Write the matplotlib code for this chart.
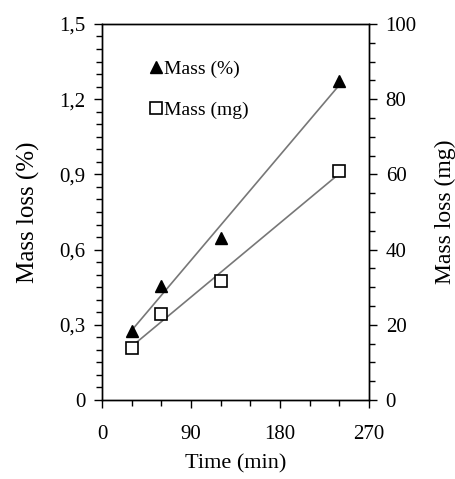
import numpy as np
import matplotlib
matplotlib.use('Agg')
import matplotlib.pyplot as plt
from matplotlib.ticker import MultipleLocator

# data
time_min = [30, 60, 120, 240]
mass_pct = [0.275, 0.455, 0.646, 1.273]
mass_mg = [13.8, 22.9, 31.6, 60.9]

xticks = [0, 90, 180, 270]
yticks_left = [0, 0.3, 0.6, 0.9, 1.2, 1.5]
ylabels_left = ['0', '0,3', '0,6', '0,9', '1,2', '1,5']
yticks_right = [0, 20, 40, 60, 80, 100]

plt.rcParams['font.family'] = ['Liberation Serif', 'DejaVu Serif']
plt.rcParams['font.size'] = 15

fig = plt.figure(figsize=(4.56, 4.79), dpi=100)
ax = fig.add_axes([0.2237, 0.1649, 0.5855, 0.7851])
ax2 = ax.twinx()

# linear trendlines
t = np.array(time_min)
p1 = np.polyfit(t, mass_pct, 1)
p2 = np.polyfit(t, mass_mg, 1)
ax.plot(t, np.polyval(p1, t), color='#777777', lw=1.2, zorder=1)
ax2.plot(t, np.polyval(p2, t), color='#777777', lw=1.2, zorder=1)

h1, = ax.plot(time_min, mass_pct, ls='none', marker='^', ms=9, color='black',
              label='Mass (%)', zorder=3)
h2, = ax2.plot(time_min, mass_mg, ls='none', marker='s', ms=9, mfc='white',
               mec='black', mew=1.2, label='Mass (mg)', zorder=3)

ax.set_xlim(0, 270)
ax.set_ylim(0, 1.5)
ax2.set_ylim(0, 100)

ax.set_xticks(xticks)
ax.xaxis.set_minor_locator(MultipleLocator(30))
ax.set_yticks(yticks_left)
ax.set_yticklabels(ylabels_left)
ax.yaxis.set_minor_locator(MultipleLocator(0.05))
ax2.set_yticks(yticks_right)
ax2.yaxis.set_minor_locator(MultipleLocator(5))

for a in (ax, ax2):
    a.tick_params(which='major', direction='out', length=6, width=1, pad=6)
    a.tick_params(which='minor', direction='out', length=4.5, width=1)
    for s in a.spines.values():
        s.set_linewidth(1)
ax.tick_params(axis='x', which='major', pad=12)

ax.set_xlabel('Time (min)', fontsize=16, labelpad=7)
ax.set_ylabel('Mass loss (%)', fontsize=18, labelpad=14)
ax2.set_ylabel('Mass loss (mg)', fontsize=17, labelpad=13)

ax.legend(handles=[h1, h2], loc='upper left', bbox_to_anchor=(0.15, 0.925),
          frameon=False, fontsize=14, handlelength=0.6, handletextpad=0.15,
          labelspacing=1.2, borderaxespad=0)

plt.savefig('out.png', dpi=100)
